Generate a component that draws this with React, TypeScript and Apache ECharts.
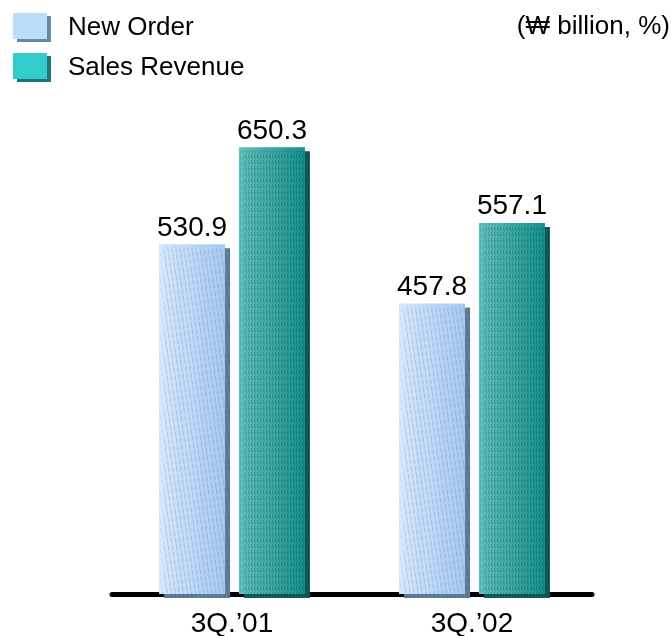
import React, { useEffect, useRef } from "react";
import * as echarts from "echarts";

const categories = ["3Q.\u201901", "3Q.\u201902"];
const newOrder = [530.9, 457.8];
const salesRevenue = [650.3, 557.1];
const seriesNames = ["New Order", "Sales Revenue"];
const unitText = "(\u20A9 billion, %)";

const FONT = "'Liberation Sans', Arial, 'DejaVu Sans', sans-serif";

export default function App() {
  const ref = useRef<HTMLDivElement>(null);
  useEffect(() => {
    if (!ref.current) return;
    const chart = echarts.init(ref.current, undefined, { renderer: "svg" });
    const grad = (a: string, b: string) =>
      new echarts.graphic.LinearGradient(0, 0, 1, 0, [
        { offset: 0, color: a },
        { offset: 1, color: b },
      ]);
    chart.setOption({
      animation: false,
      textStyle: { fontFamily: FONT },
      graphic: [
        {
          type: "text",
          x: 670,
          y: 12,
          style: {
            text: unitText,
            align: "right",
            verticalAlign: "top",
            fontSize: 26,
            fontFamily: FONT,
            fill: "#000",
          },
        },
      ],
      legend: {
        orient: "vertical",
        left: 13,
        top: 13,
        padding: 0,
        icon: "rect",
        itemWidth: 34,
        itemHeight: 26,
        itemGap: 14,
        textStyle: { fontSize: 26, color: "#000", padding: [0, 0, 0, 16], fontFamily: FONT },
        data: [
          {
            name: seriesNames[0],
            itemStyle: { color: "#bcdcfb", shadowColor: "#6a86a6", shadowOffsetX: 4, shadowOffsetY: 3, shadowBlur: 0, decal: "none" },
          },
          {
            name: seriesNames[1],
            itemStyle: { color: "#33cccc", shadowColor: "#1a7676", shadowOffsetX: 4, shadowOffsetY: 3, shadowBlur: 0, decal: "none" },
          },
        ],
      },
      grid: { left: 112, right: 79, top: 107, bottom: 41, containLabel: false },
      xAxis: {
        type: "category",
        data: categories,
        axisLine: { show: true, lineStyle: { color: "#000", width: 5 } },
        axisTick: { show: false },
        axisLabel: { fontSize: 28, color: "#000", margin: 14, fontFamily: FONT },
      },
      yAxis: {
        type: "value",
        min: 100,
        max: 700,
        show: false,
        splitLine: { show: false },
      },
      series: [
        {
          name: seriesNames[0],
          type: "bar",
          data: newOrder,
          barWidth: 66,
          barGap: "21%",
          itemStyle: {
            color: grad("#d5e8fd", "#a5c8f2"),
            shadowColor: "#5f7c9e",
            shadowOffsetX: 5,
            shadowOffsetY: 4,
            shadowBlur: 0,
            decal: {
              symbol: "rect",
              symbolSize: 1,
              color: "rgba(120,150,190,0.14)",
              dashArrayX: [1, 3],
              dashArrayY: [5, 2],
              rotation: -0.15,
            },
          },
          label: { show: true, position: "top", distance: 4, fontSize: 28, color: "#000", fontFamily: FONT },
        },
        {
          name: seriesNames[1],
          type: "bar",
          data: salesRevenue,
          barWidth: 66,
          itemStyle: {
            color: grad("#62c1bc", "#15918c"),
            shadowColor: "#0c5c5a",
            shadowOffsetX: 5,
            shadowOffsetY: 4,
            shadowBlur: 0,
            decal: {
              symbol: "rect",
              symbolSize: 1,
              color: "rgba(10,90,90,0.18)",
              dashArrayX: [1, 2],
              dashArrayY: [4, 2],
              rotation: 0,
            },
          },
          label: { show: true, position: "top", distance: 4, fontSize: 28, color: "#000", fontFamily: FONT },
        },
      ],
    });
    return () => chart.dispose();
  }, []);
  return <div ref={ref} style={{ position: "fixed", left: 0, top: 0, width: 671, height: 636 }} />;
}
